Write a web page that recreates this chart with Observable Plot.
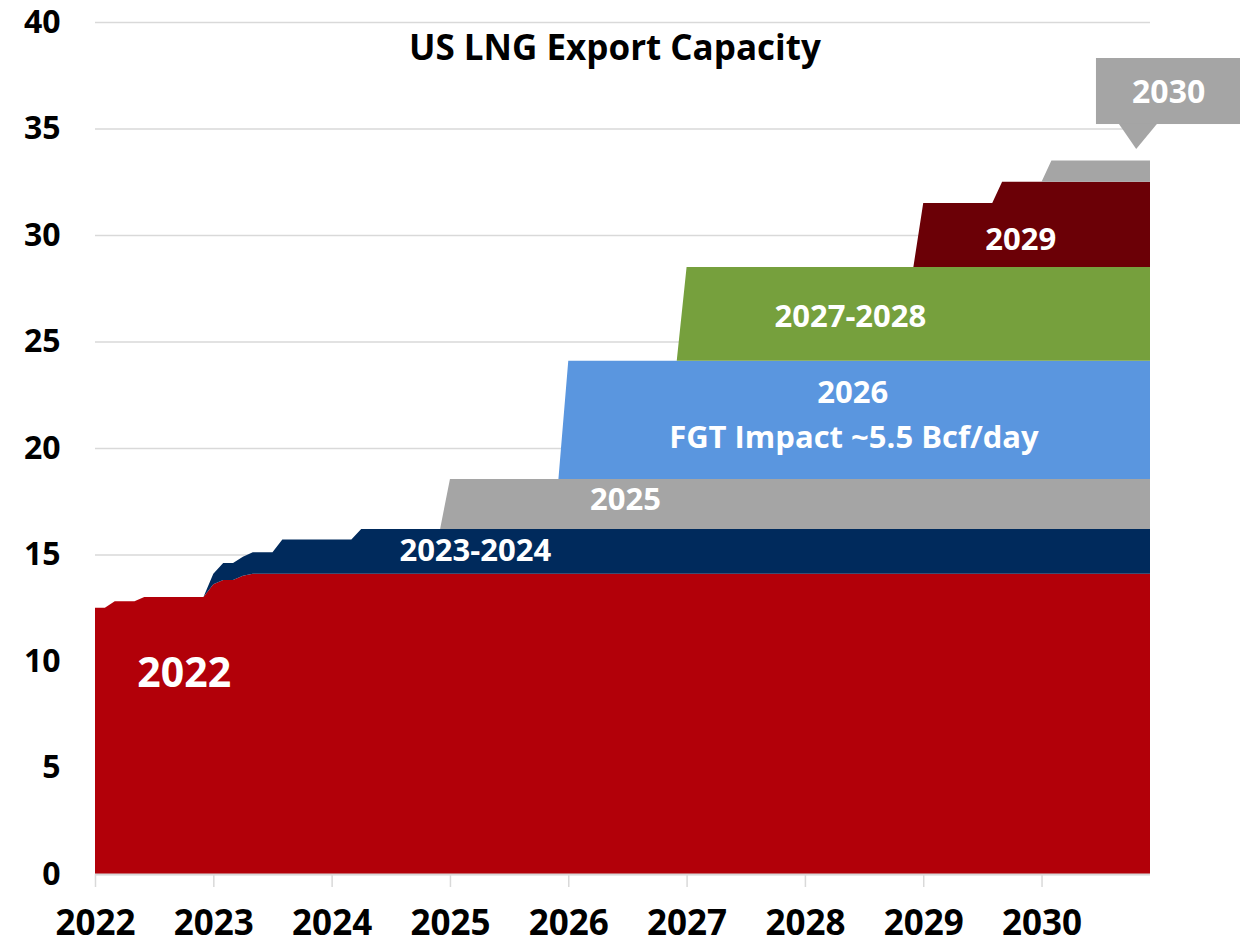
<!DOCTYPE html>
<html>
<head>
<meta charset="utf-8">
<script src="https://cdn.jsdelivr.net/npm/d3@7"></script>
<script src="https://cdn.jsdelivr.net/npm/@observablehq/plot@0.6"></script>
<style>
  html, body { margin: 0; padding: 0; background: #fff; }
  svg { display: block; }
</style>
</head>
<body>
<div id="chart"></div>
<script>
// ---- Data (Bcf/day, monthly, Jan 2022 .. Dec 2030) ----
const years = [2022, 2023, 2024, 2025, 2026, 2027, 2028, 2029, 2030];
const seriesNames = ["2022", "2023-2024", "2025", "2026", "2027-2028", "2029", "2030"];
const seriesColors = ["#b20009", "#002a5c", "#a5a5a5", "#5a96df", "#76a03d", "#6b0006", "#a5a5a5"];

const cap2022 = [
  12.5,12.5,12.8,12.8,12.8,13.0,13.0,13.0,13.0,13.0,13.0,13.0,
  13.6,13.8,13.8,14.0,14.1,14.1,14.1,14.1,14.1,14.1,14.1,14.1,
  14.1,14.1,14.1,14.1,14.1,14.1,14.1,14.1,14.1,14.1,14.1,14.1,
  14.1,14.1,14.1,14.1,14.1,14.1,14.1,14.1,14.1,14.1,14.1,14.1,
  14.1,14.1,14.1,14.1,14.1,14.1,14.1,14.1,14.1,14.1,14.1,14.1,
  14.1,14.1,14.1,14.1,14.1,14.1,14.1,14.1,14.1,14.1,14.1,14.1,
  14.1,14.1,14.1,14.1,14.1,14.1,14.1,14.1,14.1,14.1,14.1,14.1,
  14.1,14.1,14.1,14.1,14.1,14.1,14.1,14.1,14.1,14.1,14.1,14.1,
  14.1,14.1,14.1,14.1,14.1,14.1,14.1,14.1,14.1,14.1,14.1,14.1
];
const cap2023_2024 = [
  0,0,0,0,0,0,0,0,0,0,0,0,
  0.5,0.8,0.8,0.9,1.0,1.0,1.0,1.6,1.6,1.6,1.6,1.6,
  1.6,1.6,1.6,2.1,2.1,2.1,2.1,2.1,2.1,2.1,2.1,2.1,
  2.1,2.1,2.1,2.1,2.1,2.1,2.1,2.1,2.1,2.1,2.1,2.1,
  2.1,2.1,2.1,2.1,2.1,2.1,2.1,2.1,2.1,2.1,2.1,2.1,
  2.1,2.1,2.1,2.1,2.1,2.1,2.1,2.1,2.1,2.1,2.1,2.1,
  2.1,2.1,2.1,2.1,2.1,2.1,2.1,2.1,2.1,2.1,2.1,2.1,
  2.1,2.1,2.1,2.1,2.1,2.1,2.1,2.1,2.1,2.1,2.1,2.1,
  2.1,2.1,2.1,2.1,2.1,2.1,2.1,2.1,2.1,2.1,2.1,2.1
];
const cap2025 = [
  0,0,0,0,0,0,0,0,0,0,0,0,
  0,0,0,0,0,0,0,0,0,0,0,0,
  0,0,0,0,0,0,0,0,0,0,0,0,
  2.35,2.35,2.35,2.35,2.35,2.35,2.35,2.35,2.35,2.35,2.35,2.35,
  2.35,2.35,2.35,2.35,2.35,2.35,2.35,2.35,2.35,2.35,2.35,2.35,
  2.35,2.35,2.35,2.35,2.35,2.35,2.35,2.35,2.35,2.35,2.35,2.35,
  2.35,2.35,2.35,2.35,2.35,2.35,2.35,2.35,2.35,2.35,2.35,2.35,
  2.35,2.35,2.35,2.35,2.35,2.35,2.35,2.35,2.35,2.35,2.35,2.35,
  2.35,2.35,2.35,2.35,2.35,2.35,2.35,2.35,2.35,2.35,2.35,2.35
];
const cap2026 = [
  0,0,0,0,0,0,0,0,0,0,0,0,
  0,0,0,0,0,0,0,0,0,0,0,0,
  0,0,0,0,0,0,0,0,0,0,0,0,
  0,0,0,0,0,0,0,0,0,0,0,0,
  5.55,5.55,5.55,5.55,5.55,5.55,5.55,5.55,5.55,5.55,5.55,5.55,
  5.55,5.55,5.55,5.55,5.55,5.55,5.55,5.55,5.55,5.55,5.55,5.55,
  5.55,5.55,5.55,5.55,5.55,5.55,5.55,5.55,5.55,5.55,5.55,5.55,
  5.55,5.55,5.55,5.55,5.55,5.55,5.55,5.55,5.55,5.55,5.55,5.55,
  5.55,5.55,5.55,5.55,5.55,5.55,5.55,5.55,5.55,5.55,5.55,5.55
];
const cap2027_2028 = [
  0,0,0,0,0,0,0,0,0,0,0,0,
  0,0,0,0,0,0,0,0,0,0,0,0,
  0,0,0,0,0,0,0,0,0,0,0,0,
  0,0,0,0,0,0,0,0,0,0,0,0,
  0,0,0,0,0,0,0,0,0,0,0,0,
  4.4,4.4,4.4,4.4,4.4,4.4,4.4,4.4,4.4,4.4,4.4,4.4,
  4.4,4.4,4.4,4.4,4.4,4.4,4.4,4.4,4.4,4.4,4.4,4.4,
  4.4,4.4,4.4,4.4,4.4,4.4,4.4,4.4,4.4,4.4,4.4,4.4,
  4.4,4.4,4.4,4.4,4.4,4.4,4.4,4.4,4.4,4.4,4.4,4.4
];
const cap2029 = [
  0,0,0,0,0,0,0,0,0,0,0,0,
  0,0,0,0,0,0,0,0,0,0,0,0,
  0,0,0,0,0,0,0,0,0,0,0,0,
  0,0,0,0,0,0,0,0,0,0,0,0,
  0,0,0,0,0,0,0,0,0,0,0,0,
  0,0,0,0,0,0,0,0,0,0,0,0,
  0,0,0,0,0,0,0,0,0,0,0,0,
  3.0,3.0,3.0,3.0,3.0,3.0,3.0,3.0,4.0,4.0,4.0,4.0,
  4.0,4.0,4.0,4.0,4.0,4.0,4.0,4.0,4.0,4.0,4.0,4.0
];
const cap2030 = [
  0,0,0,0,0,0,0,0,0,0,0,0,
  0,0,0,0,0,0,0,0,0,0,0,0,
  0,0,0,0,0,0,0,0,0,0,0,0,
  0,0,0,0,0,0,0,0,0,0,0,0,
  0,0,0,0,0,0,0,0,0,0,0,0,
  0,0,0,0,0,0,0,0,0,0,0,0,
  0,0,0,0,0,0,0,0,0,0,0,0,
  0,0,0,0,0,0,0,0,0,0,0,0,
  0,1.0,1.0,1.0,1.0,1.0,1.0,1.0,1.0,1.0,1.0,1.0
];
const seriesValues = [cap2022, cap2023_2024, cap2025, cap2026, cap2027_2028, cap2029, cap2030];

const yTicks = [0, 5, 10, 15, 20, 25, 30, 35, 40];
const xTicks = [2022, 2023, 2024, 2025, 2026, 2027, 2028, 2029, 2030];

const titleText = "US LNG Export Capacity";
const labelTexts = ["2022", "2023-2024", "2025", "2026", "FGT Impact ~5.5 Bcf/day", "2027-2028", "2029"];
const calloutText = "2030";

// ---- Layout (annotation anchors in data units) ----
const labelAnchors = [
  {x: 2022.75, y: 9.44, size: 41},
  {x: 2025.21, y: 15.2, size: 31},
  {x: 2026.48, y: 17.56, size: 31},
  {x: 2028.40, y: 22.58, size: 31},
  {x: 2028.41, y: 20.47, size: 31},
  {x: 2028.38, y: 26.15, size: 31},
  {x: 2029.82, y: 29.77, size: 31}
];

// ---- Build table ----
const rows = [];
seriesNames.forEach((name, s) => {
  seriesValues[s].forEach((v, i) => {
    rows.push({series: name, t: years[0] + i / 12, v});
  });
});
const xEnd = years[0] + (seriesValues[0].length - 1) / 12;

const labels = labelTexts.map((text, i) => ({text, ...labelAnchors[i]}));
const font = "'Open Sans', 'DejaVu Sans', sans-serif";

const chart = Plot.plot({
  width: 1240,
  height: 946,
  marginLeft: 95,
  marginRight: 90,
  marginTop: 22,
  marginBottom: 72,
  style: {fontFamily: font, background: "#fff", color: "#000"},
  x: {domain: [years[0], xEnd], axis: null},
  y: {domain: [0, 40], axis: null},
  color: {domain: seriesNames, range: seriesColors},
  marks: [
    Plot.gridY(yTicks, {stroke: "#d9d9d9", strokeOpacity: 1, strokeWidth: 1.5}),
    Plot.areaY(rows, {x: "t", y: "v", fill: "series", z: "series", order: seriesNames, curve: "linear"}),
    Plot.ruleY([0], {stroke: "#d9d9d9", strokeWidth: 2}),
    Plot.axisY(yTicks, {tickSize: 0, tickPadding: 35, fontSize: 32, fontWeight: "bold", fill: "#000"}),
    Plot.axisX(xTicks, {tickSize: 13, tickPadding: 23, stroke: "#d9d9d9", strokeWidth: 1.5, strokeOpacity: 1, fill: "#000", fontSize: 35, fontWeight: "bold", tickFormat: d => String(d)}),
    Plot.text([titleText], {x: () => 2026.39, y: () => 38.75, text: d => d, fontSize: 35, fontWeight: "bold", fill: "#000"}),
    Plot.text(labels, {x: "x", y: "y", text: "text", fontSize: d => d.size, fontWeight: "bold", fill: "#fff"}),
    // callout box for 2030
    Plot.rect([0], {x1: () => 2030.46, x2: () => 2031.75, y1: () => 35.21, y2: () => 38.31, fill: "#a5a5a5"}),
    Plot.areaY([
      {x: 2030.65, y1: 35.25, y2: 35.25},
      {x: 2030.80, y1: 35.25, y2: 34.04},
      {x: 2030.98, y1: 35.25, y2: 35.25}
    ], {x: "x", y1: "y1", y2: "y2", fill: "#a5a5a5", curve: "linear"}),
    Plot.text([calloutText], {x: () => 2031.07, y: () => 36.71, text: d => d, fontSize: 32, fontWeight: "bold", fill: "#fff"})
  ]
});
document.getElementById("chart").appendChild(chart);
</script>
</body>
</html>
